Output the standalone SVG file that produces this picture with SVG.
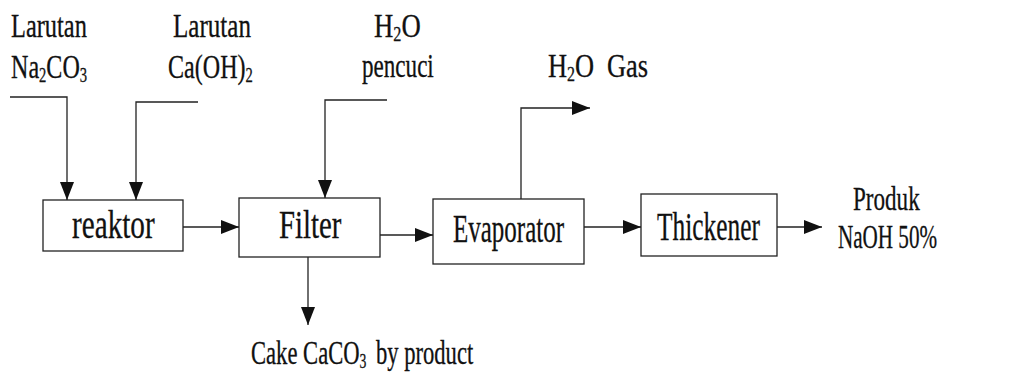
<svg xmlns="http://www.w3.org/2000/svg" width="1023" height="374" viewBox="0 0 1023 374">
<style>
text{font-family:"Liberation Serif","Times New Roman",serif;fill:#111;stroke:#111;stroke-width:0.3}
.lbl{font-size:33px}
.box{font-size:40px}
.sub{font-size:20px}
rect{fill:none;stroke:#222;stroke-width:1.3}
.ln{fill:none;stroke:#222;stroke-width:1.3}
</style>
<defs>
<marker id="ah" viewBox="0 0 18 14" refX="18" refY="7" markerWidth="18" markerHeight="14" markerUnits="userSpaceOnUse" orient="auto">
<path d="M0,0 L18,7 L0,14 Z" fill="#111"/>
</marker>
</defs>
<g id="labels">
<text class="lbl" transform="translate(11,37) scale(0.74,1)">Larutan</text>
<text class="lbl" transform="translate(11,78) scale(0.73,1)">Na<tspan class="sub" dy="4">2</tspan><tspan dy="-4">CO</tspan><tspan class="sub" dy="4">3</tspan></text>
<text class="lbl" transform="translate(173,37) scale(0.76,1)">Larutan</text>
<text class="lbl" transform="translate(168,78) scale(0.73,1)">Ca(OH)<tspan class="sub" dy="4">2</tspan></text>
<text class="lbl" transform="translate(374,37) scale(0.81,1)">H<tspan class="sub" dy="4">2</tspan><tspan dy="-4">O</tspan></text>
<text class="lbl" transform="translate(362,77) scale(0.70,1)">pencuci</text>
<text class="lbl" transform="translate(548,77) scale(0.8,1)">H<tspan class="sub" dy="4">2</tspan><tspan dy="-4">O</tspan><tspan dx="16">Gas</tspan></text>
<text class="lbl" transform="translate(853,210) scale(0.70,1)">Produk</text>
<text class="lbl" transform="translate(838,248) scale(0.64,1)">NaOH 50%</text>
<text class="lbl" transform="translate(251,364) scale(0.685,1)">Cake CaCO<tspan class="sub" dy="4">3</tspan><tspan dy="-4" dx="14">by product</tspan></text>
</g>
<g id="reaktor">
<rect x="43" y="200" width="140" height="51"/>
<text class="box" transform="translate(72,238) scale(0.73,1)">reaktor</text>
</g>
<g id="filter">
<rect x="239" y="198" width="141" height="59"/>
<text class="box" transform="translate(279,238) scale(0.72,1)">Filter</text>
</g>
<g id="evaporator">
<rect x="433" y="199" width="151" height="65"/>
<text class="box" transform="translate(453,242) scale(0.625,1)">Evaporator</text>
</g>
<g id="thickener">
<rect x="641" y="194" width="136" height="62"/>
<text class="box" transform="translate(657,240) scale(0.635,1)">Thickener</text>
</g>
<g id="connectors">
<polyline class="ln" points="10,97 67,97 67,200" marker-end="url(#ah)"/>
<polyline class="ln" points="198,102 136,102 136,200" marker-end="url(#ah)"/>
<polyline class="ln" points="387,100 325,100 325,198" marker-end="url(#ah)"/>
<polyline class="ln" points="521,199 521,108 590,108" marker-end="url(#ah)"/>
<line class="ln" x1="183" y1="227" x2="239" y2="227" marker-end="url(#ah)"/>
<line class="ln" x1="380" y1="235" x2="433" y2="235" marker-end="url(#ah)"/>
<line class="ln" x1="584" y1="227" x2="641" y2="227" marker-end="url(#ah)"/>
<line class="ln" x1="777" y1="227" x2="822" y2="227" marker-end="url(#ah)"/>
<line class="ln" x1="308" y1="257" x2="308" y2="325" marker-end="url(#ah)"/>
</g>
</svg>
